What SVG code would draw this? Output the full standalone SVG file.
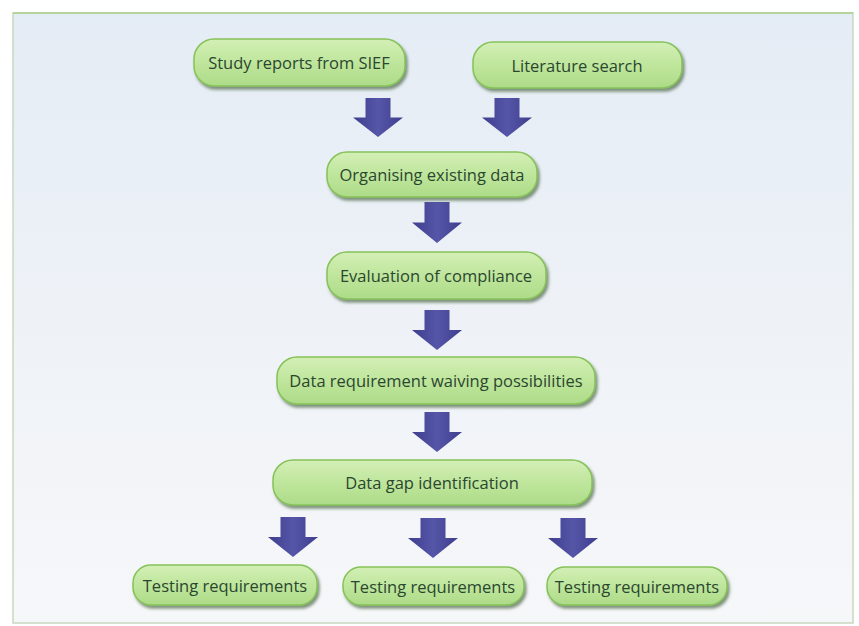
<svg xmlns="http://www.w3.org/2000/svg" width="859" height="626" viewBox="0 0 859 626">
<defs>
<linearGradient id="bg" x1="0" y1="0" x2="0" y2="1">
<stop offset="0" stop-color="#e4ecf5"/>
<stop offset="0.5" stop-color="#eef2f7"/>
<stop offset="1" stop-color="#f6f7f9"/>
</linearGradient>
<linearGradient id="nodeFill" x1="0" y1="0" x2="0" y2="1">
<stop offset="0" stop-color="#d3efb6"/>
<stop offset="0.5" stop-color="#bfe69c"/>
<stop offset="1" stop-color="#addb88"/>
</linearGradient>
<linearGradient id="arrowFill" x1="0" y1="0" x2="1" y2="0">
<stop offset="0" stop-color="#3e3d8e"/>
<stop offset="0.5" stop-color="#5656a8"/>
<stop offset="1" stop-color="#3e3d8e"/>
</linearGradient>
<filter id="shadow" x="-10%" y="-20%" width="125%" height="150%">
<feGaussianBlur in="SourceAlpha" stdDeviation="1.5"/>
<feOffset dx="2" dy="3" result="b"/>
<feFlood flood-color="#4f6a48" flood-opacity="0.7"/>
<feComposite in2="b" operator="in"/>
<feMerge><feMergeNode/><feMergeNode in="SourceGraphic"/></feMerge>
</filter>
<path id="arr" d="M-12.5,0 H12.5 V20 H25 L0,40 L-25,20 H-12.5 Z"/>
</defs>
<style>
.node rect{fill:url(#nodeFill);stroke:#86c25a;stroke-width:1.5;filter:url(#shadow)}
.node text{font-family:"Open Sans","Noto Sans",sans-serif;font-size:16.5px;fill:#2b4630;text-anchor:middle;dominant-baseline:central}
.arrow{fill:url(#arrowFill)}
</style>
<rect x="0" y="0" width="859" height="626" fill="#ffffff"/>
<rect x="13" y="13" width="840" height="610" fill="url(#bg)" stroke="#c9d8c0" stroke-width="1.5"/>
<line x1="13" y1="13" x2="853" y2="13" stroke="#a9d08a" stroke-width="1.5"/>

<g id="connectors">
<use href="#arr" class="arrow" transform="translate(378,98) scale(1,0.975)"/>
<use href="#arr" class="arrow" transform="translate(507,98) scale(1,0.975)"/>
<use href="#arr" class="arrow" transform="translate(437,202) scale(1,1.025)"/>
<use href="#arr" class="arrow" transform="translate(437,310)"/>
<use href="#arr" class="arrow" transform="translate(437,412)"/>
<use href="#arr" class="arrow" transform="translate(293,517)"/>
<use href="#arr" class="arrow" transform="translate(433,518)"/>
<use href="#arr" class="arrow" transform="translate(573,518)"/>
</g>

<g id="n1" class="node"><rect x="194" y="39" width="211" height="47" rx="20"/><text x="299" y="62">Study reports from SIEF</text></g>
<g id="n2" class="node"><rect x="473" y="42" width="209" height="46" rx="20"/><text x="577" y="65">Literature search</text></g>
<g id="n3" class="node"><rect x="327" y="152" width="210" height="45" rx="20"/><text x="432" y="174">Organising existing data</text></g>
<g id="n4" class="node"><rect x="327" y="252" width="219" height="47" rx="20"/><text x="436" y="275">Evaluation of compliance</text></g>
<g id="n5" class="node"><rect x="277" y="357" width="318" height="47" rx="20"/><text x="436" y="380">Data requirement waiving possibilities</text></g>
<g id="n6" class="node"><rect x="273" y="460" width="319" height="45" rx="20"/><text x="432" y="482">Data gap identification</text></g>
<g id="n7" class="node"><rect x="133" y="565" width="184" height="40" rx="18"/><text x="225" y="585">Testing requirements</text></g>
<g id="n8" class="node"><rect x="343" y="567" width="181" height="38" rx="18"/><text x="433" y="586">Testing requirements</text></g>
<g id="n9" class="node"><rect x="547" y="567" width="180" height="38" rx="18"/><text x="637" y="586">Testing requirements</text></g>
</svg>
